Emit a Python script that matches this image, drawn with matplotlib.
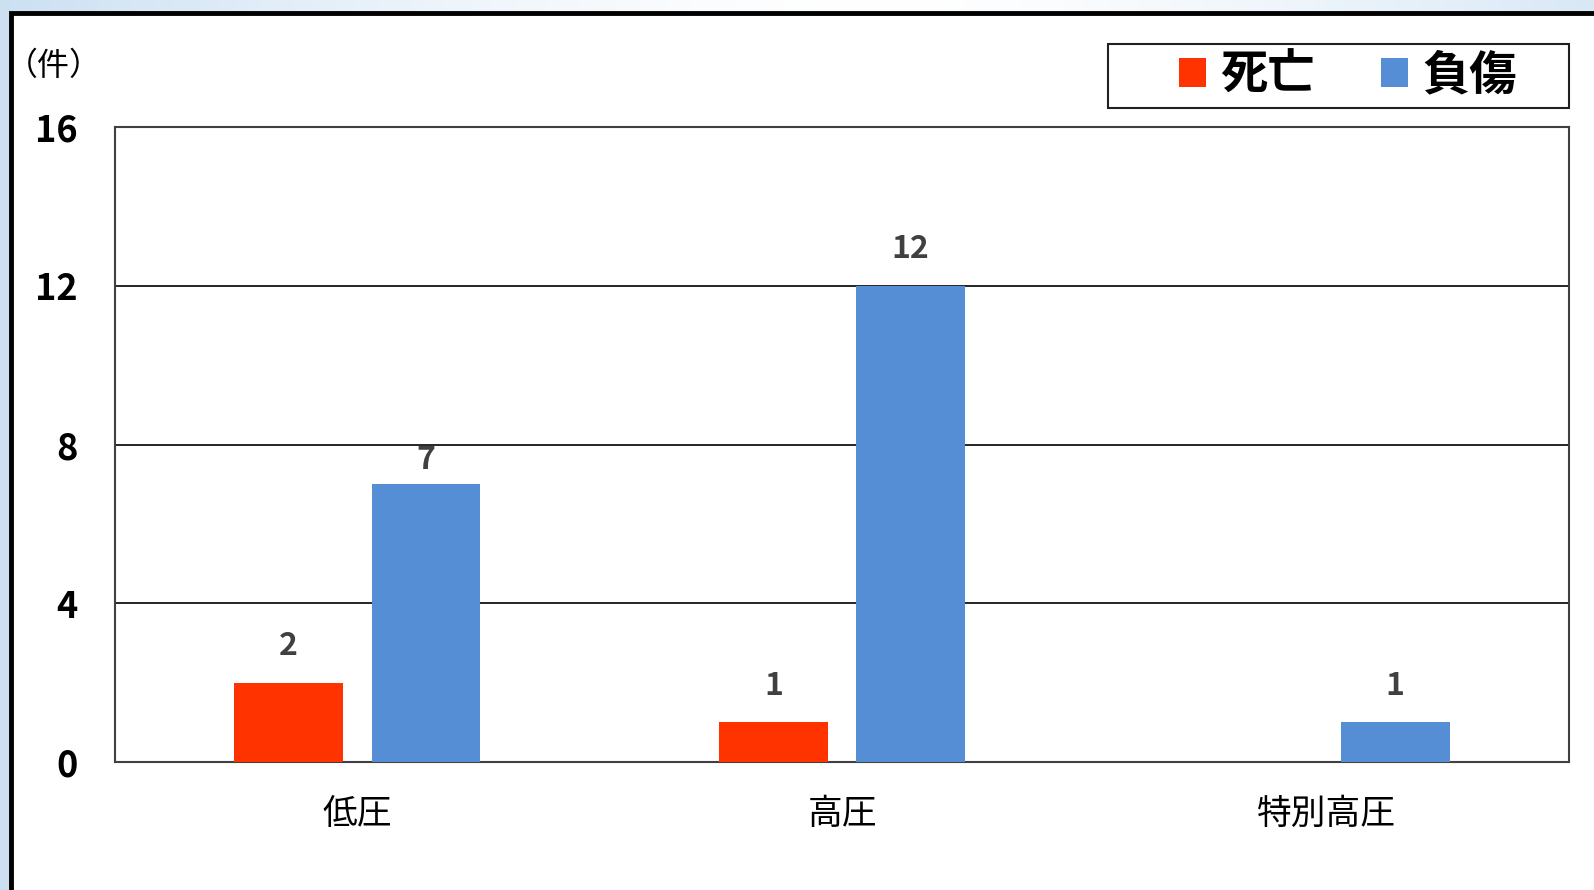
import matplotlib
matplotlib.use("Agg")
import matplotlib.pyplot as plt
import numpy as np
from matplotlib.patches import Patch, Rectangle

plt.rcParams['font.family'] = ['Noto Sans CJK JP', 'DejaVu Sans']

# 電圧別の感電事故件数
categories = ['低圧', '高圧', '特別高圧']
deaths = [2, 1, 0]
injuries = [7, 12, 1]
series_names = ['死亡', '負傷']
y_ticks = [0, 4, 8, 12, 16]

red = '#FF3300'
blue = '#558ED5'

fig = plt.figure(figsize=(15.94, 8.90), dpi=100)
W, H = 1594, 890

# 背景の淡い青のグラデーション
bg = fig.add_axes([0, 0, 1, 1], zorder=-10)
grad = np.linspace(0, 1, 256)
wt = np.clip(np.abs(grad - 0.55) / 0.55, 0, 1) ** 1.5
c0 = np.array([1.0, 1.0, 1.0])
c1 = np.array([0.80, 0.88, 0.95])
img = (c0[None, :] * (1 - wt[:, None]) + c1[None, :] * wt[:, None])[None, :, :]
bg.imshow(img, aspect='auto', extent=[0, 1, 0, 1])
bg.set_xlim(0, 1)
bg.set_ylim(0, 1)
bg.axis('off')

# 白い枠
bg.add_patch(Rectangle((11 / W, -0.05), 1.1, 1 - 12.5 / H + 0.05,
                       facecolor='white', edgecolor='black', linewidth=3.5,
                       transform=bg.transAxes, zorder=2))

# 凡例の枠
bg.add_patch(Rectangle((1108 / W, 1 - 108 / H), (1569 - 1108) / W, 64 / H,
                       facecolor='white', edgecolor='#202020', linewidth=1.5,
                       transform=bg.transAxes, zorder=3))

ax = fig.add_axes([115 / W, 1 - 762 / H, (1569 - 115) / W, (762 - 127) / H])
x = np.arange(len(categories))
width = 0.2245
off = 0.1416

b1 = ax.bar(x - off, deaths, width, color=red, zorder=3)
b2 = ax.bar(x + off, injuries, width, color=blue, zorder=3)

# ラベルの持ち上げ量 (pt)、「7」だけ少し下げる
lift = {(1, 0): 17.5}
for si, (bars, vals) in enumerate(((b1, deaths), (b2, injuries))):
    for ci, (rect, v) in enumerate(zip(bars, vals)):
        if v == 0:
            continue
        ax.annotate(str(v), (rect.get_x() + rect.get_width() / 2, v),
                    xytext=(0, lift.get((si, ci), 26.5)),
                    textcoords='offset points',
                    ha='center', va='center', fontsize=23,
                    fontweight='bold', color='#404040', zorder=4)

ax.set_xlim(-0.5, 2.5)
ax.set_ylim(0, 16)
ax.set_yticks(y_ticks)
ax.set_yticklabels([str(t) for t in y_ticks], fontsize=26, fontweight='bold')
ax.set_xticks(x)
ax.set_xticklabels(categories, fontsize=25)
ax.tick_params(axis='y', length=0, pad=27)
ax.tick_params(axis='x', length=0, pad=25)
ax.yaxis.grid(True, color='black', linewidth=1.2, zorder=1)
ax.set_axisbelow(True)
for s in ax.spines.values():
    s.set_color('#404040')
    s.set_linewidth(1.5)

fig.text(6 / W, 1 - 66 / H, '（件）', fontsize=23, ha='left', va='center')

handles = [Patch(facecolor=red), Patch(facecolor=blue)]
leg = fig.legend(handles, series_names, loc='center',
                 bbox_to_anchor=(1348 / W, 1 - 75 / H), ncol=2,
                 prop={'size': 34, 'weight': 'bold'}, frameon=False,
                 handlelength=0.58, handleheight=0.58, handletextpad=0.3,
                 columnspacing=1.4, borderpad=0, borderaxespad=0)
leg.set_zorder(5)

fig.savefig('out.png', dpi=100)
